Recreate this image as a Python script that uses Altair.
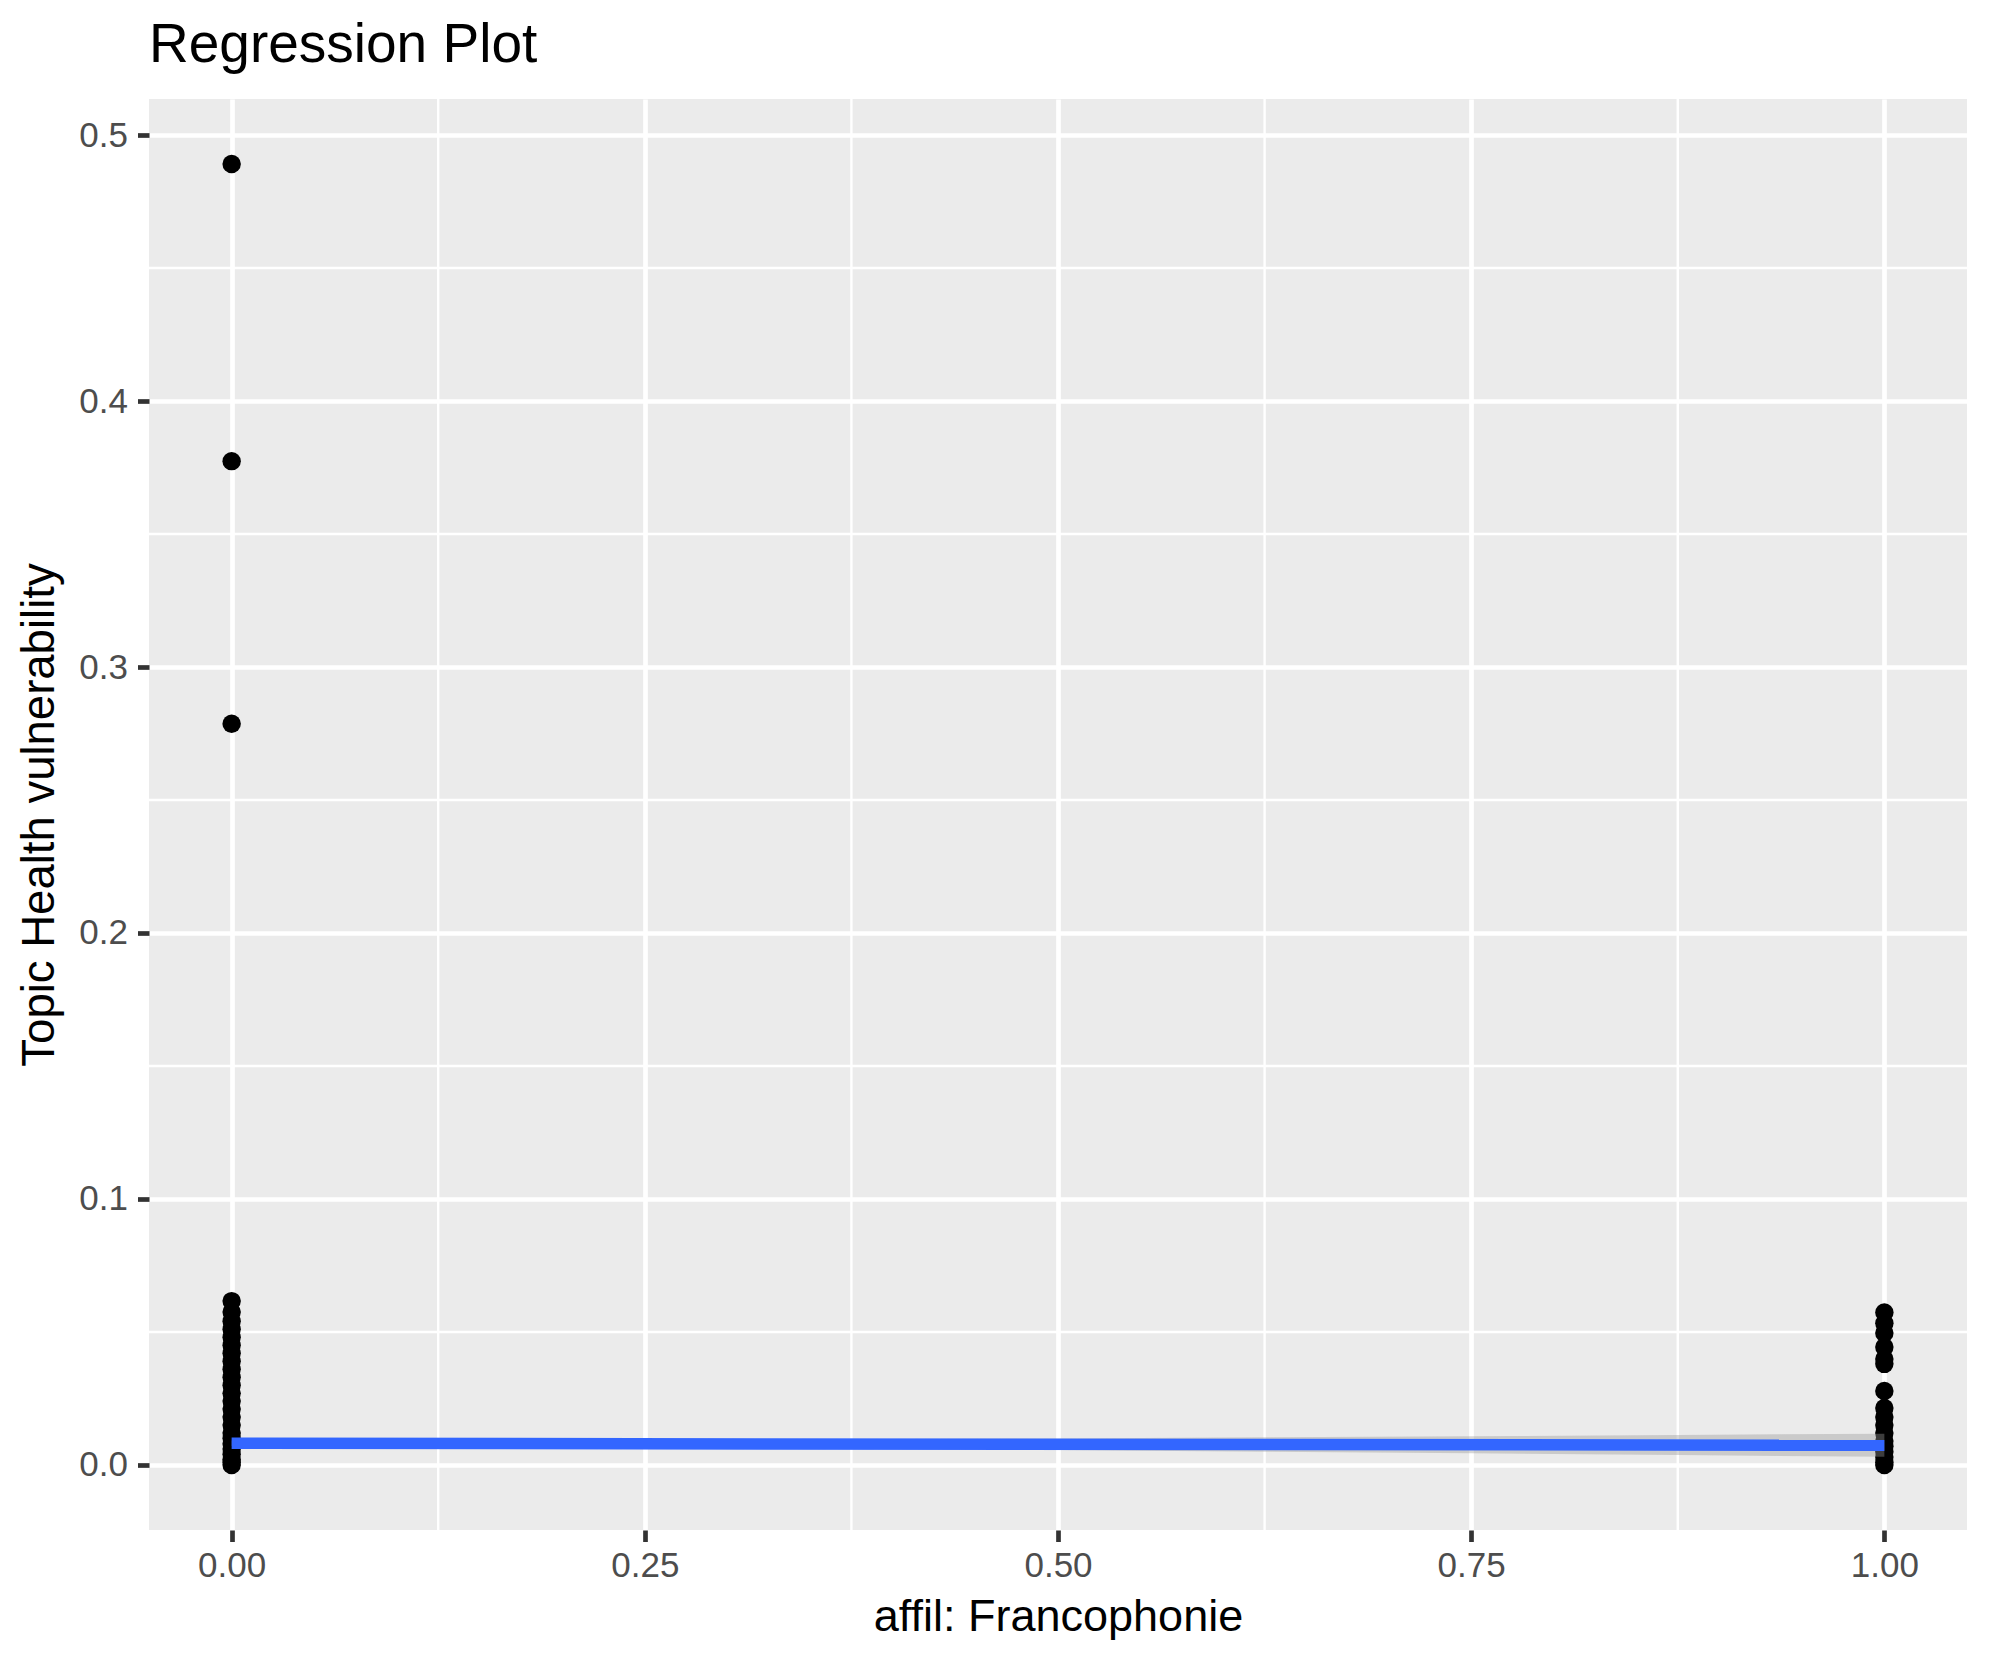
import altair as alt
import pandas as pd

# ---- data ----
left_y = [0.4891, 0.3774, 0.2787,
          0.0616, 0.0575, 0.054, 0.051, 0.048, 0.045, 0.042, 0.039, 0.036,
          0.033, 0.030, 0.027, 0.024, 0.021, 0.018, 0.015, 0.012, 0.010,
          0.008, 0.006, 0.004, 0.002, 0.001, 0.0]
right_y = [0.0573, 0.0533, 0.0496, 0.0443, 0.0398, 0.038,
           0.0278, 0.0214, 0.018, 0.015, 0.012, 0.009, 0.007, 0.005,
           0.003, 0.001, 0.0]

fit_x = [0.0, 1.0]
fit_y = [0.00815, 0.0074]

band_x = [0.0, 0.125, 0.25, 0.375, 0.5, 0.625, 0.75, 0.875, 1.0]
band_lo = [0.00715, 0.00696, 0.00656, 0.00607, 0.00558, 0.00498, 0.00439, 0.00370, 0.00310]
band_hi = [0.00915, 0.00916, 0.00936, 0.00967, 0.00998, 0.01038, 0.01079, 0.01130, 0.01170]

x_ticks = [0.0, 0.25, 0.5, 0.75, 1.0]
y_ticks = [0.0, 0.1, 0.2, 0.3, 0.4, 0.5]
x_minor = [0.125, 0.375, 0.625, 0.875]
y_minor = [0.05, 0.15, 0.25, 0.35, 0.45]

x_title = "affil: Francophonie"
y_title = "Topic Health vulnerability"
title = "Regression Plot"

# ---- tables ----
pts = pd.DataFrame({
    "x": [0.0] * len(left_y) + [1.0] * len(right_y),
    "y": left_y + right_y,
})
fit = pd.DataFrame({"x": fit_x, "y": fit_y})
band = pd.DataFrame({"x": band_x, "lo": band_lo, "hi": band_hi})
mx = pd.DataFrame({"v": x_minor})
my = pd.DataFrame({"v": y_minor})

FONT = "Liberation Sans"
W, H = 1818, 1431
xdom = [-0.05, 1.05]
ydom = [-0.02446, 0.51356]
xs = alt.Scale(domain=xdom, nice=False, zero=False)
ys = alt.Scale(domain=ydom, nice=False, zero=False)

xaxis = alt.Axis(
    values=x_ticks, format=".2f", title=x_title,
    grid=True, gridColor="white", gridWidth=4.7,
    domain=False, ticks=True, tickSize=11.5, tickWidth=4.7, tickColor="#333333",
    labelFont=FONT, labelFontSize=35, labelColor="#4D4D4D",
    labelBaseline="alphabetic", labelPadding=35, labelFlush=False,
    titleFont=FONT, titleFontSize=45, titleFontWeight="normal", titleColor="black",
    titleBaseline="alphabetic", titleX=W / 2, titleY=100.7, titleAlign="center",
)
yaxis = alt.Axis(
    values=y_ticks, format=".1f", title=y_title,
    grid=True, gridColor="white", gridWidth=4.7,
    domain=False, ticks=True, tickSize=11.5, tickWidth=4.7, tickColor="#333333",
    labelFont=FONT, labelFontSize=35, labelColor="#4D4D4D",
    labelPadding=10, labelFlush=False,
    titleFont=FONT, titleFontSize=45.5, titleFontWeight="normal", titleColor="black",
    titleBaseline="alphabetic", titleAngle=270, titleX=-95.5, titleY=H / 2,
    titleAlign="center",
)

minor_x = alt.Chart(mx).mark_rule(color="white", strokeWidth=2.4).encode(
    x=alt.X("v:Q", scale=xs, axis=xaxis)
)
minor_y = alt.Chart(my).mark_rule(color="white", strokeWidth=2.4).encode(
    y=alt.Y("v:Q", scale=ys, axis=yaxis)
)

points = alt.Chart(pts).mark_circle(color="black", opacity=1, size=340).encode(
    x=alt.X("x:Q", scale=xs, axis=xaxis),
    y=alt.Y("y:Q", scale=ys, axis=yaxis),
)

ribbon = alt.Chart(band).mark_area(color="#999999", opacity=0.4).encode(
    x=alt.X("x:Q", scale=xs, axis=xaxis),
    y=alt.Y("lo:Q", scale=ys, axis=yaxis),
    y2="hi:Q",
)

line = alt.Chart(fit).mark_line(color="#3366FF", strokeWidth=11.5).encode(
    x=alt.X("x:Q", scale=xs, axis=xaxis),
    y=alt.Y("y:Q", scale=ys, axis=yaxis),
)

chart = alt.layer(minor_x, minor_y, points, ribbon, line).properties(
    width=W, height=H,
    background="white",
    padding={"left": 141, "top": 91, "right": 15, "bottom": 120},
    autosize=alt.AutoSizeParams(type="none"),
    title=alt.TitleParams(
        text=title, anchor="start", frame="group", fontSize=55, font=FONT,
        fontWeight="normal", color="black", baseline="alphabetic", offset=-19,
    ),
).configure_view(fill="#EBEBEB", strokeWidth=0)

chart.save("out.html", embed_options={"renderer": "svg", "actions": False})
